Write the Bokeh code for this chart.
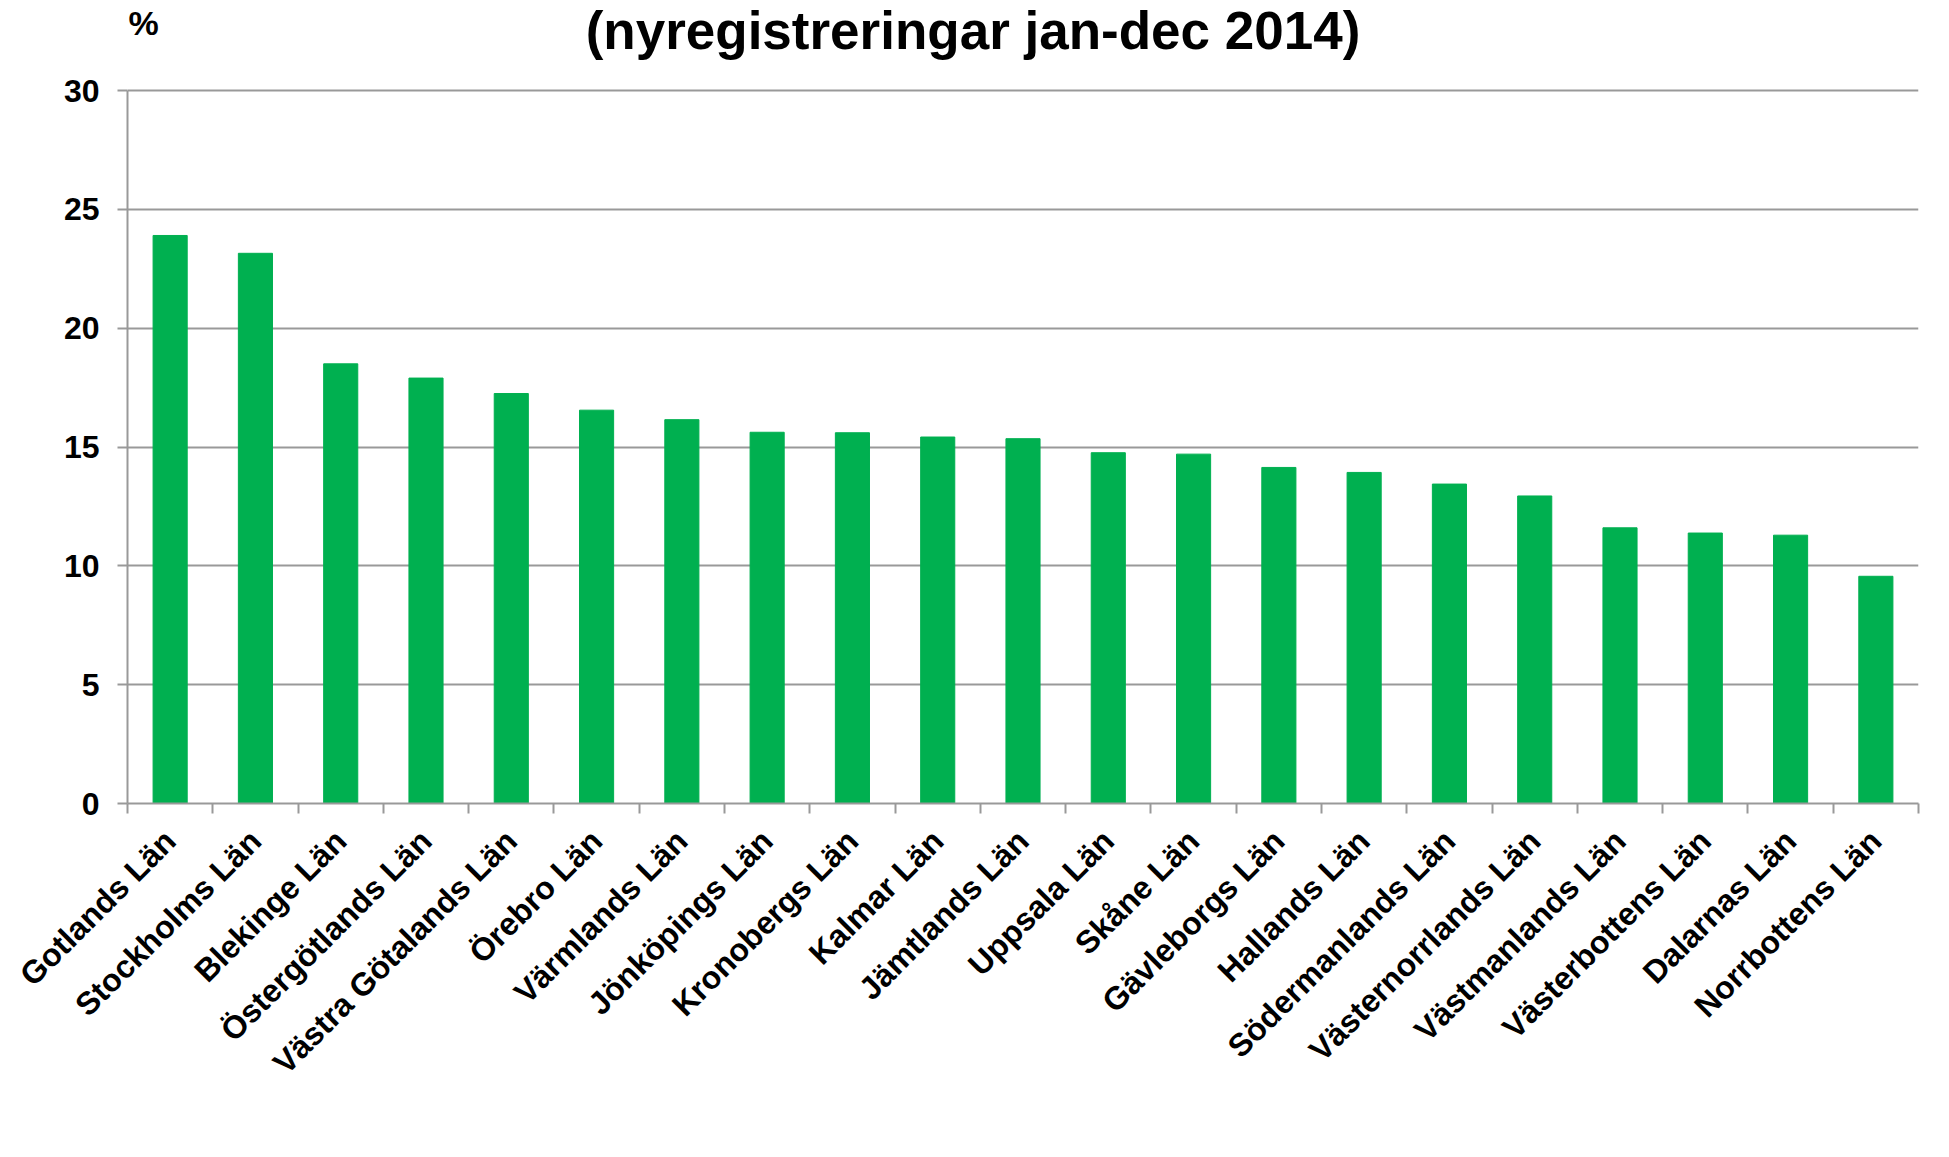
import math
from bokeh.plotting import figure
from bokeh.models import Range1d, FixedTicker, Label, ColumnDataSource
from bokeh.embed import file_html
from bokeh.resources import INLINE

# ---- data ----
regions = ["Gotlands Län", "Stockholms Län", "Blekinge Län", "Östergötlands Län",
           "Västra Götalands Län", "Örebro Län", "Värmlands Län", "Jönköpings Län",
           "Kronobergs Län", "Kalmar Län", "Jämtlands Län", "Uppsala Län",
           "Skåne Län", "Gävleborgs Län", "Hallands Län", "Södermanlands Län",
           "Västernorrlands Län", "Västmanlands Län", "Västerbottens Län",
           "Dalarnas Län", "Norrbottens Län"]
shares = [23.9, 23.15, 18.5, 17.9, 17.25, 16.55, 16.15, 15.62, 15.6, 15.42, 15.35,
          14.76, 14.7, 14.14, 13.93, 13.44, 12.94, 11.6, 11.38, 11.29, 9.56]
y_ticks = [0, 5, 10, 15, 20, 25, 30]
title_text = "(nyregistreringar jan-dec 2014)"
unit_text = "%"

FONT = "Liberation Sans"
GRAY = "#999999"
GREEN = "#00B050"

# layout (pixels)
TOP_SPACE = 90          # space above the 30-line for title and unit
PLOT_H = 713            # pixel height from 0 to 30
Y_MAX = 30
y_top = Y_MAX + TOP_SPACE * Y_MAX / PLOT_H

n = len(regions)
idx = list(range(n))
source = ColumnDataSource(dict(pos=idx, region=regions, share=shares))

p = figure(width=1933, height=1141,
           x_range=Range1d(-0.5, n - 0.5),
           y_range=Range1d(0, y_top),
           output_backend="svg", toolbar_location=None,
           min_border_left=127, min_border_right=15,
           min_border_top=0, min_border_bottom=338)
p.outline_line_color = None
p.background_fill_color = "white"
p.border_fill_color = "white"

p.vbar(x="pos", top="share", width=0.4, source=source,
       fill_color=GREEN, line_color=GREEN, line_width=1)

# y axis
p.yaxis.ticker = FixedTicker(ticks=y_ticks)
p.yaxis.bounds = (0, Y_MAX)
p.yaxis.major_tick_out = 10
p.yaxis.major_tick_in = 0
p.yaxis.minor_tick_line_color = None
p.yaxis.axis_line_color = GRAY
p.yaxis.axis_line_width = 2
p.yaxis.major_tick_line_color = GRAY
p.yaxis.major_tick_line_width = 2
p.yaxis.major_label_text_font = FONT
p.yaxis.major_label_text_font_size = "32px"
p.yaxis.major_label_text_font_style = "bold"
p.yaxis.major_label_text_color = "black"
p.yaxis.major_label_standoff = 18

p.ygrid.ticker = FixedTicker(ticks=y_ticks)
p.ygrid.grid_line_color = GRAY
p.ygrid.grid_line_width = 2
p.xgrid.grid_line_color = None

# x axis: labels at bar centres, tick marks at category boundaries
xa = p.xaxis[0]
xa.ticker = FixedTicker(ticks=idx, minor_ticks=[i - 0.5 for i in range(n + 1)])
xa.major_label_overrides = {i: r for i, r in zip(idx, regions)}
xa.major_tick_line_color = None
xa.major_tick_out = 0
xa.major_tick_in = 0
xa.minor_tick_line_color = GRAY
xa.minor_tick_line_width = 2
xa.minor_tick_out = 10
xa.minor_tick_in = 0
xa.axis_line_color = GRAY
xa.axis_line_width = 2
xa.major_label_orientation = math.pi / 4
xa.major_label_text_font = FONT
xa.major_label_text_font_size = "32px"
xa.major_label_text_font_style = "bold"
xa.major_label_text_color = "black"
xa.major_label_standoff = 22

# title and unit (drawn inside the frame's top band)
p.add_layout(Label(x=(n - 1) / 2, y=Y_MAX, x_offset=-50, y_offset=60,
                   text=title_text, text_font=FONT, text_font_size="53px",
                   text_font_style="bold", text_align="center",
                   text_baseline="middle", text_color="black"))
p.add_layout(Label(x=-0.5, y=Y_MAX, x_offset=1, y_offset=68,
                   text=unit_text, text_font=FONT, text_font_size="34px",
                   text_font_style="bold", text_align="left",
                   text_baseline="middle", text_color="black"))

open("out.html", "w").write(file_html(p, INLINE))
